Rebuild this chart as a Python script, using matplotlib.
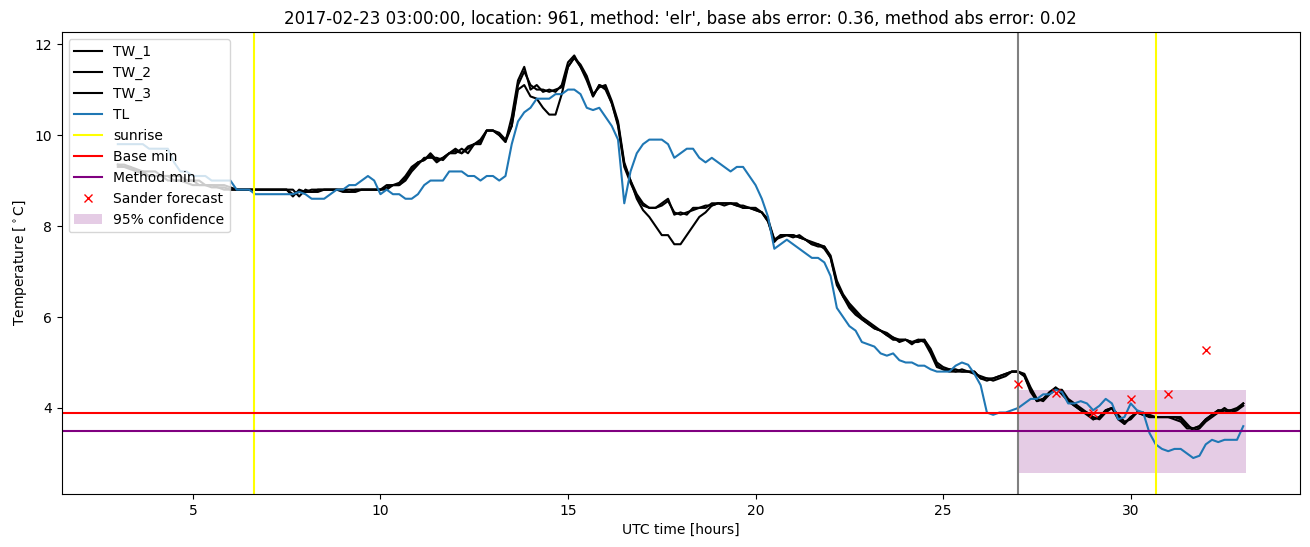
import numpy as np
import matplotlib
matplotlib.use("Agg")
import matplotlib.pyplot as plt

# 10-minute samples from 03:00 to 33:00 UTC (hours since 2017-02-22 00:00)
hours = np.linspace(3, 33, 181)

TL = [9.8, 9.8, 9.8, 9.8, 9.8, 9.7,
      9.7, 9.7, 9.7, 9.4, 9.2, 9.2,
      9.1, 9.1, 9.1, 9.0, 9.0, 9.0,
      9.0, 8.8, 8.8, 8.8, 8.7, 8.7,
      8.7, 8.7, 8.7, 8.7, 8.7, 8.75,
      8.7, 8.6, 8.6, 8.6, 8.7, 8.8,
      8.8, 8.9, 8.9, 9.0, 9.1, 9.0,
      8.7, 8.8, 8.7, 8.7, 8.6, 8.6,
      8.7, 8.9, 9.0, 9.0, 9.0, 9.2,
      9.2, 9.2, 9.1, 9.1, 9.0, 9.1,
      9.1, 9.0, 9.1, 9.8, 10.3, 10.5,
      10.6, 10.8, 10.8, 10.8, 10.9, 10.9,
      11.0, 11.0, 10.9, 10.6, 10.55, 10.6,
      10.4, 10.2, 9.9, 8.5, 9.2, 9.6,
      9.8, 9.9, 9.9, 9.9, 9.8, 9.5,
      9.6, 9.7, 9.7, 9.5, 9.4, 9.5,
      9.4, 9.3, 9.2, 9.3, 9.3, 9.1,
      8.9, 8.6, 8.2, 7.5, 7.6, 7.7,
      7.6, 7.5, 7.4, 7.3, 7.3, 7.2,
      6.9, 6.2, 6.0, 5.8, 5.7, 5.45,
      5.4, 5.35, 5.2, 5.15, 5.2, 5.05,
      5.0, 5.0, 4.93, 4.93, 4.85, 4.8,
      4.8, 4.8, 4.93, 5.0, 4.95, 4.75,
      4.5, 3.9, 3.85, 3.9, 3.9, 3.95,
      4.0, 4.1, 4.2, 4.2, 4.3, 4.3,
      4.4, 4.35, 4.1, 4.1, 4.15, 4.1,
      3.95, 4.05, 4.2, 4.1, 3.75, 3.8,
      4.1, 3.95, 3.9, 3.45, 3.2, 3.1,
      3.05, 3.1, 3.1, 3.0, 2.9, 2.95,
      3.2, 3.3, 3.25, 3.3, 3.3, 3.3,
      3.6]

TW_1 = [9.35, 9.35, 9.3, 9.25, 9.2, 9.2,
        9.2, 9.1, 9.1, 9.1, 9.1, 9.0,
        9.0, 9.0, 8.9, 8.9, 8.9, 8.9,
        8.85, 8.8, 8.8, 8.8, 8.8, 8.8,
        8.8, 8.8, 8.8, 8.8, 8.65, 8.8,
        8.75, 8.75, 8.8, 8.8, 8.8, 8.8,
        8.8, 8.8, 8.8, 8.8, 8.8, 8.8,
        8.8, 8.9, 8.9, 8.95, 9.1, 9.3,
        9.4, 9.45, 9.6, 9.45, 9.5, 9.6,
        9.7, 9.6, 9.75, 9.8, 9.9, 10.1,
        10.1, 10.0, 9.85, 10.4, 11.2, 11.5,
        11.0, 11.1, 10.95, 11.0, 10.95, 11.1,
        11.6, 11.75, 11.5, 11.25, 10.85, 11.1,
        11.0, 10.7, 10.2, 9.3, 8.95, 8.65,
        8.45, 8.4, 8.4, 8.5, 8.6, 8.25,
        8.3, 8.25, 8.4, 8.4, 8.4, 8.5,
        8.5, 8.5, 8.5, 8.45, 8.45, 8.4,
        8.35, 8.3, 8.1, 7.65, 7.8, 7.8,
        7.8, 7.75, 7.7, 7.6, 7.55, 7.55,
        7.3, 6.75, 6.45, 6.25, 6.1, 5.95,
        5.85, 5.75, 5.7, 5.6, 5.5, 5.5,
        5.5, 5.4, 5.5, 5.5, 5.25, 4.95,
        4.85, 4.85, 4.8, 4.8, 4.8, 4.8,
        4.65, 4.65, 4.65, 4.7, 4.75, 4.8,
        4.8, 4.7, 4.4, 4.15, 4.2, 4.3,
        4.45, 4.35, 4.15, 4.05, 3.95, 3.9,
        3.75, 3.8, 3.95, 4.0, 3.8, 3.65,
        3.8, 3.9, 3.85, 3.85, 3.8, 3.8,
        3.8, 3.8, 3.75, 3.6, 3.55, 3.6,
        3.75, 3.85, 3.95, 3.95, 3.95, 3.95,
        4.1]

TW_2 = [9.35, 9.3, 9.3, 9.2, 9.2, 9.1,
        9.1, 9.1, 9.1, 9.0, 9.0, 9.0,
        9.0, 8.9, 8.9, 8.9, 8.85, 8.85,
        8.8, 8.8, 8.8, 8.8, 8.8, 8.8,
        8.8, 8.8, 8.8, 8.8, 8.8, 8.65,
        8.8, 8.75, 8.75, 8.8, 8.8, 8.8,
        8.75, 8.75, 8.8, 8.8, 8.8, 8.8,
        8.8, 8.8, 8.9, 8.9, 9.0, 9.2,
        9.35, 9.5, 9.5, 9.5, 9.45, 9.6,
        9.6, 9.7, 9.6, 9.8, 9.8, 10.1,
        10.1, 10.05, 9.9, 10.2, 11.1, 11.4,
        11.1, 11.0, 11.0, 10.95, 11.0, 11.05,
        11.5, 11.7, 11.55, 11.3, 10.9, 11.05,
        11.1, 10.75, 10.3, 9.4, 9.0, 8.7,
        8.5, 8.4, 8.4, 8.45, 8.55, 8.3,
        8.25, 8.3, 8.35, 8.4, 8.45, 8.45,
        8.5, 8.45, 8.5, 8.5, 8.4, 8.4,
        8.4, 8.3, 8.15, 7.7, 7.75, 7.8,
        7.75, 7.8, 7.7, 7.65, 7.6, 7.55,
        7.35, 6.8, 6.5, 6.3, 6.15, 6.0,
        5.9, 5.8, 5.7, 5.65, 5.55, 5.45,
        5.5, 5.45, 5.45, 5.5, 5.3, 5.0,
        4.9, 4.85, 4.85, 4.8, 4.8, 4.75,
        4.7, 4.65, 4.6, 4.65, 4.7, 4.8,
        4.8, 4.75, 4.45, 4.2, 4.15, 4.3,
        4.4, 4.4, 4.2, 4.1, 4.0, 3.9,
        3.8, 3.75, 3.9, 4.0, 3.85, 3.7,
        3.75, 3.9, 3.9, 3.8, 3.8, 3.8,
        3.8, 3.8, 3.8, 3.65, 3.5, 3.55,
        3.7, 3.8, 3.9, 4.0, 3.9, 3.95,
        4.05]

TW_3 = [9.3, 9.3, 9.25, 9.2, 9.15, 9.1,
        9.1, 9.1, 9.0, 9.0, 9.0, 8.95,
        8.9, 8.9, 8.9, 8.85, 8.85, 8.8,
        8.8, 8.8, 8.8, 8.8, 8.8, 8.8,
        8.8, 8.8, 8.8, 8.8, 8.7, 8.75,
        8.75, 8.8, 8.8, 8.8, 8.8, 8.8,
        8.8, 8.75, 8.75, 8.8, 8.8, 8.8,
        8.8, 8.85, 8.9, 8.9, 9.05, 9.25,
        9.4, 9.45, 9.55, 9.4, 9.5, 9.6,
        9.65, 9.6, 9.7, 9.8, 9.85, 10.1,
        10.1, 10.0, 9.85, 10.2, 11.0, 11.1,
        10.85, 10.8, 10.6, 10.45, 10.45, 10.9,
        11.5, 11.7, 11.5, 11.2, 10.85, 11.1,
        11.05, 10.7, 10.25, 9.35, 9.0, 8.6,
        8.35, 8.2, 8.0, 7.8, 7.8, 7.6,
        7.6, 7.8, 8.0, 8.2, 8.3, 8.45,
        8.5, 8.5, 8.5, 8.45, 8.4, 8.4,
        8.35, 8.3, 8.1, 7.7, 7.8, 7.8,
        7.8, 7.75, 7.7, 7.6, 7.6, 7.5,
        7.3, 6.7, 6.45, 6.2, 6.05, 5.95,
        5.85, 5.75, 5.7, 5.6, 5.55, 5.5,
        5.5, 5.45, 5.5, 5.45, 5.2, 4.9,
        4.85, 4.8, 4.8, 4.85, 4.8, 4.8,
        4.65, 4.6, 4.65, 4.7, 4.75, 4.8,
        4.8, 4.7, 4.35, 4.15, 4.2, 4.35,
        4.45, 4.3, 4.15, 4.05, 3.95, 3.85,
        3.75, 3.8, 3.95, 4.0, 3.75, 3.65,
        3.8, 3.9, 3.85, 3.8, 3.8, 3.8,
        3.8, 3.75, 3.7, 3.55, 3.55, 3.6,
        3.75, 3.85, 3.95, 3.9, 3.95, 4.0,
        4.1]

sunrise = [6.64, 30.68]
forecast_time = 27.0
base_min = 3.89
method_min = 3.49

sander_hours = [27, 28, 29, 30, 31, 32]
sander_values = [4.53, 4.32, 3.88, 4.19, 4.30, 5.27]

conf_hours = [27.0, 33.08]
conf_low = 2.57
conf_high = 4.39

title = ("2017-02-23 03:00:00, location: 961, method: 'elr', "
         "base abs error: 0.36, method abs error: 0.02")

fig, ax = plt.subplots(figsize=(13.1, 5.47), dpi=100)
fig.subplots_adjust(left=0.047, right=0.992, top=0.941, bottom=0.097)

ax.plot(hours, TW_1, color='black', label='TW_1')
ax.plot(hours, TW_2, color='black', label='TW_2')
ax.plot(hours, TW_3, color='black', label='TW_3')
ax.plot(hours, TL, color='tab:blue', label='TL')
ax.axvline(sunrise[0], color='yellow', label='sunrise')
ax.axvline(sunrise[1], color='yellow')
ax.axvline(forecast_time, color='grey')
ax.axhline(base_min, color='red', label='Base min')
ax.axhline(method_min, color='purple', label='Method min')
ax.plot(sander_hours, sander_values, 'x', color='red', label='Sander forecast')
ax.fill_between(conf_hours, conf_low, conf_high, color='purple', alpha=0.2,
                linewidth=0, label='95% confidence')

ax.set_xlim(1.5, 34.5)
ax.set_ylim(2.11, 12.26)
ax.set_title(title)
ax.set_xlabel('UTC time [hours]')
ax.set_ylabel(r'Temperature [$^\circ$C]')
ax.legend(loc='upper left')

fig.savefig('out.png')
